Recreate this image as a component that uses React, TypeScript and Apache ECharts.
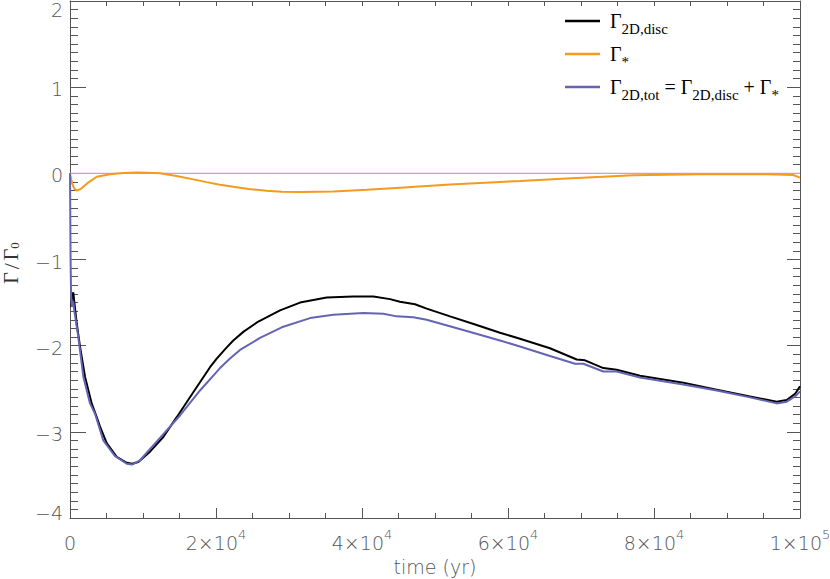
import React, { useEffect, useRef } from 'react';
import * as echarts from 'echarts';

// ---- data (time in yr, torque in units of Gamma_0) ----
const discCurve: [number, number][] = [
  [150, -1.55], [300, -1.42], [450, -1.38], [600, -1.5], [918, -1.74], [1370, -2.01],
  [2055, -2.36], [2970, -2.67], [3660, -2.83], [4110, -2.94], [5030, -3.13], [6400, -3.29],
  [7770, -3.36], [8500, -3.37], [9360, -3.35], [10960, -3.23], [12780, -3.06], [14620, -2.83],
  [16890, -2.54], [19180, -2.25], [20100, -2.15], [21470, -2.02], [22370, -1.94], [23740, -1.84],
  [25800, -1.72], [28770, -1.59], [31510, -1.5], [35160, -1.44], [38810, -1.43], [41550, -1.43],
  [43840, -1.46], [45200, -1.49], [47260, -1.52], [48860, -1.57], [52060, -1.66], [55710, -1.76],
  [58900, -1.85], [61640, -1.92], [65750, -2.03], [69410, -2.16], [70550, -2.17], [73060, -2.26],
  [74890, -2.28], [78080, -2.35], [84010, -2.43], [88590, -2.51], [93150, -2.59], [96810, -2.65],
  [98180, -2.63], [99320, -2.56], [100000, -2.47],
];

const starCurve: [number, number][] = [
  [0, 0], [300, -0.12], [600, -0.18], [960, -0.2], [1500, -0.18], [2300, -0.12], [3660, -0.04],
  [5480, -0.01], [7300, 0.005], [9140, 0.01], [10500, 0.008], [12330, 0], [14600, -0.03],
  [16890, -0.07], [18700, -0.102], [20550, -0.132], [22370, -0.157], [24500, -0.182], [26940, -0.203],
  [29000, -0.213], [31510, -0.217], [36070, -0.21], [40640, -0.19], [45200, -0.166],
  [52060, -0.13], [58900, -0.1], [61640, -0.09], [68040, -0.06], [77160, -0.023],
  [86300, -0.012], [95440, -0.012], [99080, -0.02], [100000, -0.05],
];

const totCurve: [number, number][] = [
  [0, 0], [80, -1.0], [150, -1.42], [270, -1.55], [450, -1.49], [600, -1.6], [1140, -1.9],
  [1830, -2.36], [2740, -2.67], [3430, -2.79], [4560, -3.1], [6140, -3.28], [7770, -3.37],
  [8500, -3.38], [9590, -3.33], [12330, -3.07], [15070, -2.81], [17810, -2.52], [20550, -2.26],
  [21920, -2.15], [23290, -2.05], [26030, -1.91], [29220, -1.78], [32880, -1.68], [36070, -1.64],
  [40180, -1.62], [42920, -1.63], [44750, -1.66], [47030, -1.67], [48860, -1.7], [54340, -1.83],
  [58900, -1.94], [61640, -2.01], [65750, -2.12], [69180, -2.21], [70320, -2.21], [73060, -2.3],
  [74890, -2.3], [78080, -2.37], [84010, -2.45], [88590, -2.52], [93150, -2.6], [96810, -2.67],
  [98180, -2.65], [99320, -2.59], [100000, -2.53],
];

const zeroLevel: [number, number][] = [[0, 0], [100000, 0]];

const X_MIN = 0;
const X_MAX = 100000;
const X_STEP = 20000;
const Y_MIN = -4;
const Y_MAX = 2;
const Y_STEP = 1;

const seriesNames = ['Γ2D,disc', 'Γ*', 'Γ2D,tot'];
const legendLabels: Record<string, string> = {
  'Γ2D,disc': '{g|Γ}{s|2D,disc}',
  'Γ*': '{g|Γ}{a|*}',
  'Γ2D,tot': '{g|Γ}{s|2D,tot}{g| = Γ}{s|2D,disc}{g| + Γ}{a|*}',
};
const seriesColors = ['#000000', '#f7991c', '#6464b4'];
const zeroColor = '#cf9ccf';

const SANS = "'DejaVu Sans', sans-serif";
const SERIF = "'Liberation Serif', 'Times New Roman', serif";
const LABEL_COLOR = '#555555';
const AXIS_COLOR = '#555555';

function xLabel(v: number): string {
  if (v === 0) return '{n|0}';
  const e = Math.floor(Math.log10(v) + 1e-9);
  const m = Math.round(v / Math.pow(10, e));
  return `{n|${m}×10}{s|${e}}`;
}

function yLabel(v: number): string {
  const txt = v < 0 ? '−' + Math.abs(v) : String(v);
  if (v === Y_MAX) return `{t|${txt}}`;
  if (v === Y_MIN) return `{b|${txt}}`;
  return `{v|${txt}}`;
}

export default function App() {
  const ref = useRef<HTMLDivElement>(null);

  useEffect(() => {
    if (!ref.current) return;
    const chart = echarts.init(ref.current, undefined, { renderer: 'svg' });

    const legendRich = {
      g: { fontFamily: SERIF, fontSize: 20, lineHeight: 30, color: '#000', verticalAlign: 'middle' },
      s: { fontFamily: SERIF, fontSize: 15, lineHeight: 22, color: '#000', verticalAlign: 'bottom' },
      a: { fontFamily: SERIF, fontSize: 15, lineHeight: 6, color: '#000', verticalAlign: 'bottom' },
    };

    const yRich = {
      v: { fontFamily: SANS, fontSize: 19, lineHeight: 20, color: LABEL_COLOR, padding: [4, 0, 0, 0], fontWeight: 200 },
      t: { fontFamily: SANS, fontSize: 19, lineHeight: 20, color: LABEL_COLOR, padding: [17, 0, 0, 0], fontWeight: 200 },
      b: { fontFamily: SANS, fontSize: 19, lineHeight: 20, color: LABEL_COLOR, padding: [0, 0, 10, 0], fontWeight: 200 },
    };

    const xRich = {
      n: { fontFamily: SANS, fontSize: 19, lineHeight: 24, color: LABEL_COLOR, verticalAlign: 'bottom', fontWeight: 200 },
      s: { fontFamily: SANS, fontSize: 13, lineHeight: 4, color: LABEL_COLOR, verticalAlign: 'top', fontWeight: 200 },
    };

    const option: any = {
      animation: false,
      backgroundColor: '#ffffff',
      grid: { left: 70, right: 30, top: 1, bottom: 61, outerBoundsMode: 'none', containLabel: false },
      legend: {
        data: seriesNames,
        orient: 'vertical',
        left: 565,
        top: 11,
        padding: 0,
        itemGap: 8,
        itemWidth: 35,
        itemHeight: 2.5,
        icon: 'rect',
        selectedMode: false,
        formatter: (name: string) => legendLabels[name] || name,
        textStyle: { padding: [0, 0, 0, 5], rich: legendRich, color: '#000' },
      },
      xAxis: [
        {
          type: 'value',
          position: 'bottom',
          min: X_MIN,
          max: X_MAX,
          interval: X_STEP,
          name: 'time (yr)',
          nameLocation: 'middle',
          nameGap: 49,
          nameMoveOverlap: false,
          nameTextStyle: { fontFamily: SANS, fontSize: 19, color: LABEL_COLOR, verticalAlign: 'middle', lineHeight: 20, fontWeight: 200 },
          axisLine: { show: true, onZero: false, lineStyle: { color: AXIS_COLOR, width: 1 } },
          axisTick: { show: true, inside: true, length: 10, lineStyle: { color: AXIS_COLOR } },
          minorTick: { show: true, splitNumber: 4, length: 5, lineStyle: { color: AXIS_COLOR } },
          splitLine: { show: false },
          axisLabel: { show: true, margin: 10, formatter: xLabel, rich: xRich, showMinLabel: true, showMaxLabel: true, hideOverlap: false },
        },
        {
          type: 'value',
          position: 'top',
          min: X_MIN,
          max: X_MAX,
          interval: X_STEP,
          axisLine: { show: true, onZero: false, lineStyle: { color: AXIS_COLOR, width: 1 } },
          axisTick: { show: true, inside: true, length: 5, lineStyle: { color: AXIS_COLOR } },
          minorTick: { show: true, splitNumber: 4, length: 5, lineStyle: { color: AXIS_COLOR } },
          splitLine: { show: false },
          axisLabel: { show: false },
        },
      ],
      yAxis: [
        {
          type: 'value',
          position: 'left',
          min: Y_MIN,
          max: Y_MAX,
          interval: Y_STEP,
          axisLine: { show: true, onZero: false, lineStyle: { color: AXIS_COLOR, width: 1 } },
          axisTick: { show: true, inside: true, length: 16, lineStyle: { color: AXIS_COLOR } },
          minorTick: { show: true, splitNumber: 10, length: 8, lineStyle: { color: AXIS_COLOR } },
          splitLine: { show: false },
          axisLabel: { show: true, margin: 7, formatter: yLabel, rich: yRich, showMinLabel: true, showMaxLabel: true, hideOverlap: false },
        },
        {
          type: 'value',
          position: 'right',
          min: Y_MIN,
          max: Y_MAX,
          interval: Y_STEP,
          axisLine: { show: true, onZero: false, lineStyle: { color: AXIS_COLOR, width: 1 } },
          axisTick: { show: true, inside: true, length: 13, lineStyle: { color: AXIS_COLOR } },
          minorTick: { show: true, splitNumber: 10, length: 7, lineStyle: { color: AXIS_COLOR } },
          splitLine: { show: false },
          axisLabel: { show: false },
        },
      ],
      graphic: [
        {
          type: 'text',
          x: 11,
          y: 263,
          rotation: Math.PI / 2,
          style: {
            text: '{g|Γ}{sl|/}{g|Γ}{s|0}',
            align: 'center',
            verticalAlign: 'middle',
            rich: {
              g: { fontFamily: SERIF, fontSize: 20, lineHeight: 20, fill: '#333', verticalAlign: 'middle' },
              sl: { fontFamily: SERIF, fontSize: 22, lineHeight: 20, fill: '#333', padding: [0, 3, 0, 3] },
              s: { fontFamily: SERIF, fontSize: 13, lineHeight: 2, fill: '#333', verticalAlign: 'bottom' },
            },
          },
        },
      ],
      series: [
        {
          name: 'zero',
          type: 'line',
          data: zeroLevel,
          showSymbol: false,
          symbol: 'none',
          silent: true,
          lineStyle: { color: zeroColor, width: 1.2 },
          itemStyle: { color: zeroColor },
        },
        {
          name: seriesNames[0],
          type: 'line',
          data: discCurve,
          showSymbol: false,
          symbol: 'none',
          lineStyle: { color: seriesColors[0], width: 2 },
          itemStyle: { color: seriesColors[0] },
        },
        {
          name: seriesNames[1],
          type: 'line',
          data: starCurve,
          showSymbol: false,
          symbol: 'none',
          lineStyle: { color: seriesColors[1], width: 2 },
          itemStyle: { color: seriesColors[1] },
        },
        {
          name: seriesNames[2],
          type: 'line',
          data: totCurve,
          showSymbol: false,
          symbol: 'none',
          lineStyle: { color: seriesColors[2], width: 2 },
          itemStyle: { color: seriesColors[2] },
        },
      ],
    };

    chart.setOption(option);
    return () => chart.dispose();
  }, []);

  return (
    <div
      ref={ref}
      style={{ position: 'absolute', left: 0, top: 0, width: 830, height: 579, background: '#fff' }}
    />
  );
}
